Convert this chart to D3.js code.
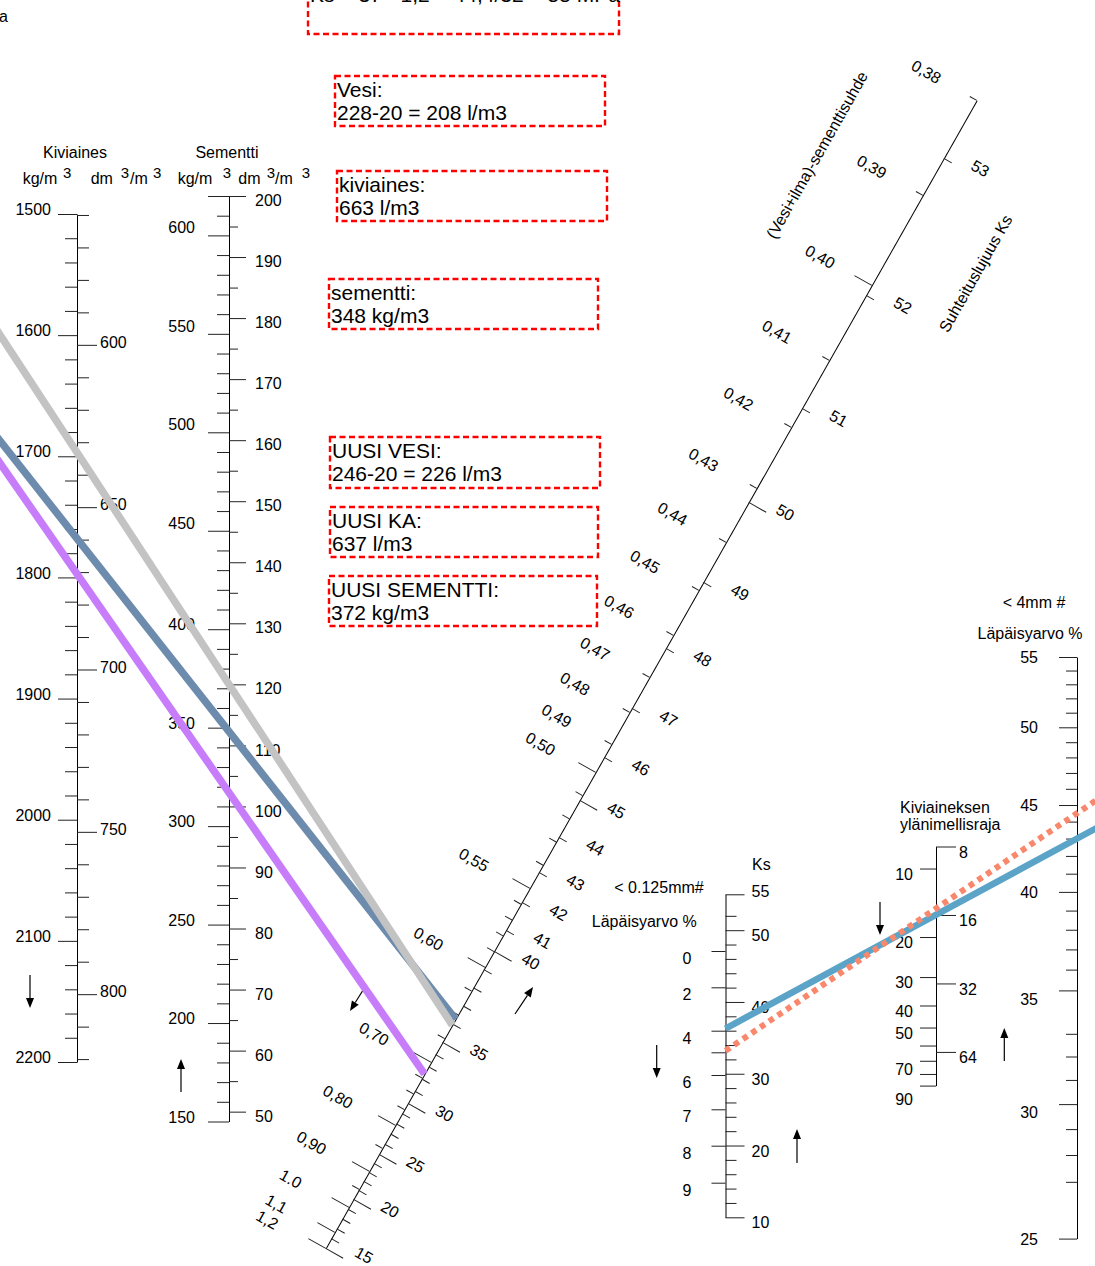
<!DOCTYPE html>
<html>
<head>
<meta charset="utf-8">
<title>Betonin suhteitusnomogrammi</title>
<style>
  body { margin: 0; background: #fff; }
  svg { display: block; }
</style>
</head>
<body>
<script src="https://cdn.jsdelivr.net/npm/d3@7/dist/d3.min.js"></script>
<script>
// ---------- values ----------
var aggKgLabels = [1500, 1600, 1700, 1800, 1900, 2000, 2100, 2200];
var aggDmLabels = [600, 650, 700, 750, 800];
var aggDensity = 2.68;   // kg/dm3

var cemKgLabels = [600, 550, 500, 450, 400, 350, 300, 250, 200, 150];
var cemDmLabels = [200, 190, 180, 170, 160, 150, 140, 130, 120, 110, 100, 90, 80, 70, 60, 50];
var cemDensity = 3.1;

var wcLabels = [0.38, 0.39, 0.40, 0.41, 0.42, 0.43, 0.44, 0.45, 0.46, 0.47, 0.48, 0.49, 0.50,
                0.55, 0.60, 0.70, 0.80, 0.90, 1.0, 1.1, 1.2];
var ksLabels = [15, 20, 25, 30, 35, 40, 41, 42, 43, 44, 45, 46, 47, 48, 49, 50, 51, 52, 53];

var ksSmallLabels = [55, 50, 40, 30, 20, 10];
var fineLabels = [0, 2, 4, 6, 7, 8, 9];
var dmaxLeftLabels = [10, 20, 30, 40, 50, 70, 90];
var dmaxRightLabels = [8, 16, 32, 64];
var coarseLabels = [55, 50, 45, 40, 35, 30, 25];

// water / cement pairs drawn from the cement axis to the w/c axis
var mixWater  = [228, 246, 228];
var mixCement = [348, 372, 317];

// Ks (middle axis) -> passing % (< 4mm) lines
var gradeKs   = [36.3, 33.2];
var gradePass = [43.0, 44.5];

var noteLines = [
  ["Ks = 37 · 1,2 = 44,4/32 = 55 MPa"],
  ["Vesi:", "228-20 = 208 l/m3"],
  ["kiviaines:", "663 l/m3"],
  ["sementti:", "348 kg/m3"],
  ["UUSI VESI:", "246-20 = 226 l/m3"],
  ["UUSI KA:", "637 l/m3"],
  ["UUSI SEMENTTI:", "372 kg/m3"]
];

// ---------- layout ----------
var width = 1095, height = 1266;
var FONT = '"Liberation Sans", Arial, Helvetica, sans-serif';

var svg = d3.select("body").append("svg")
    .attr("width", width)
    .attr("height", height)
    .attr("font-family", FONT);

var aggX = 77, cemX = 229, ksX = 725.5, dmaxX = 936, coarseX = 1077;

// vertical scales
var aggKg = d3.scaleLinear().domain([1500, 2200]).range([214, 1062]);
var aggDm = d3.scaleLinear().domain([1500 / aggDensity, 2200 / aggDensity]).range([214, 1062]);
var cemKg = d3.scaleLinear().domain([620, 150]).range([196, 1121.5]);
var cemDm = d3.scaleLinear().domain([620 / cemDensity, 150 / cemDensity]).range([196, 1121.5]);
var ksMid = d3.scaleLinear().domain([55, 10]).range([894.3, 1217.3]);
// the < 0.125 mm scale is not linear: calibrated on its ticks
var fineCal  = [0, 2, 4, 5, 6, 7, 8, 9];
var fineCalY = [951, 987.3, 1030.7, 1052.3, 1075, 1109.3, 1145.7, 1182.7];
var fineScale = d3.scaleLinear().domain(fineCal).range(fineCalY);
var dmaxScale = d3.scaleLog().domain([8, 90]).range([846.5, 1085.6]);
var coarseScale = d3.scaleLog().domain([25, 55]).range([1238.6, 657]);

// oblique w/c + Ks axis
var diagTop = [977, 100], diagBot = [326, 1248];
var diagLen = Math.hypot(diagBot[0] - diagTop[0], diagBot[1] - diagTop[1]);
var dirX = (diagBot[0] - diagTop[0]) / diagLen, dirY = (diagBot[1] - diagTop[1]) / diagLen;
var diagAngle = Math.atan2(-dirX, dirY) * 180 / Math.PI;
function toDist(y) { return (y - diagTop[1]) / dirY; }
function diagPoint(d) { return [diagTop[0] + dirX * d, diagTop[1] + dirY * d]; }

// nonlinear nomogram scales, calibrated on the printed ticks (screen y on the axis)
var wcCal  = [0.38, 0.39, 0.40, 0.41, 0.42, 0.43, 0.44, 0.45, 0.46, 0.47, 0.48, 0.49, 0.50,
              0.55, 0.60, 0.70, 0.80, 0.90, 1.0, 1.1, 1.2];
var wcCalY = [100, 195, 285, 360, 427, 488, 542, 590, 635, 677, 712, 744, 772,
              888, 967, 1062, 1125, 1171, 1207, 1232, 1248];
var ksCal  = [15, 20, 25, 30, 35, 40, 41, 42, 43, 44, 45, 46, 47, 48, 49, 50, 51, 52, 53];
var ksCalY = [1248, 1199, 1154, 1103, 1042, 951, 930, 902, 872, 837, 800, 757, 708, 648, 582, 502, 408, 295, 158];
var wcScale = d3.scaleLinear().domain(wcCal).range(wcCalY.map(toDist));
var ksScale = d3.scaleLinear().domain(ksCal).range(ksCalY.map(toDist));

// ---------- helpers ----------
function makeAxis(side, scale, values, size, fmt, pad) {
  return (side === "left" ? d3.axisLeft(scale) : d3.axisRight(scale))
    .tickValues(values)
    .tickSize(size)
    .tickSizeOuter(0)
    .tickPadding(pad || 3)
    .tickFormat(fmt || function () { return ""; });
}

function axisG(parent, transform, axis, withDomain) {
  var g = parent.append("g")
      .attr("transform", transform)
      .call(axis)
      .attr("font-size", 16)
      .attr("font-family", FONT)
      .attr("color", "#000");
  if (!withDomain) g.select(".domain").remove();
  g.selectAll(".tick line").attr("stroke", "#222");
  g.selectAll(".tick text").attr("dy", "0.35em");
  return g;
}

function only(list) {
  return function (d) { return list.indexOf(d) >= 0 ? d : ""; };
}

function arrow(x1, y1, x2, y2) {
  var dx = x2 - x1, dy = y2 - y1, L = Math.hypot(dx, dy);
  var ux = dx / L, uy = dy / L, hl = 10, hw = 4;
  svg.append("line")
    .attr("x1", x1).attr("y1", y1)
    .attr("x2", x2 - ux * hl).attr("y2", y2 - uy * hl)
    .attr("stroke", "#000").attr("stroke-width", 1.2);
  svg.append("path")
    .attr("d", "M" + x2 + "," + y2 +
               "L" + (x2 - ux * hl - uy * hw) + "," + (y2 - uy * hl + ux * hw) +
               "L" + (x2 - ux * hl + uy * hw) + "," + (y2 - uy * hl - ux * hw) + "Z")
    .attr("fill", "#000");
}

function label(str, x, y, anchor, size) {
  return svg.append("text")
    .attr("x", x).attr("y", y)
    .attr("text-anchor", anchor || "start")
    .attr("font-size", size || 16)
    .attr("fill", "#000")
    .text(str);
}

var fmtInt = d3.format("d");

// ---------- Kiviaines axis ----------
var tAgg = "translate(" + aggX + ",0)";
axisG(svg, tAgg, makeAxis("left", aggKg,
  d3.range(1500, 2201, 20).filter(function (d) { return d % 100 !== 0; }), 12), true);
axisG(svg, tAgg, makeAxis("left", aggKg, aggKgLabels, 19, fmtInt, 7))
  .selectAll(".tick text").attr("y", -5);
axisG(svg, tAgg, makeAxis("right", aggDm,
  d3.range(560, 821, 10).filter(function (d) { return d % 50 !== 0; }), 12));
axisG(svg, tAgg, makeAxis("right", aggDm, aggDmLabels, 20, fmtInt, 3))
  .selectAll(".tick text").attr("y", -3);

// ---------- Sementti axis ----------
var tCem = "translate(" + cemX + ",0)";
axisG(svg, tCem, makeAxis("left", cemKg,
  d3.range(160, 620, 10).filter(function (d) { return d % 50 !== 0; }), 12), true);
axisG(svg, tCem, makeAxis("left", cemKg, [620].concat(cemKgLabels), 21, only(cemKgLabels), 13))
  .selectAll(".tick text").attr("y", function (d) { return d > 400 ? -8 : -5; });
axisG(svg, tCem, makeAxis("right", cemDm,
  d3.range(55, 200, 10), 9));
axisG(svg, tCem, makeAxis("right", cemDm, cemDmLabels, 17, fmtInt, 9))
  .selectAll(".tick text").attr("y", 4);

// ---------- oblique w/c and Ks axis ----------
var tDiag = "translate(" + diagTop[0] + "," + diagTop[1] + ") rotate(" + diagAngle + ")";
var wcLong = [0.40, 0.50, 0.55, 0.60, 0.70, 0.80, 0.90, 1.0, 1.1, 1.2];
var wcShort = d3.range(38, 61).map(function (i) { return i / 100; })
  .filter(function (d) { return wcLong.indexOf(d) < 0; })
  .concat([0.625, 0.65, 0.675, 0.725, 0.75, 0.775, 0.85, 0.95]);
axisG(svg, tDiag, makeAxis("left", wcScale, wcShort, 8), true);
axisG(svg, tDiag, makeAxis("left", wcScale, wcLong, 20));
axisG(svg, tDiag, makeAxis("left", wcScale, wcLabels, 0, function (d) {
  return d === 1 ? "1.0" : (d > 1 ? d.toFixed(1) : d.toFixed(2)).replace(".", ",");
})).selectAll(".tick text")
  .attr("x", function (d) { return -58 - 7 * wcScale(d) / diagLen; })
  .attr("y", function (d) { return 4 * wcScale(d) / diagLen; })
  .attr("text-anchor", "middle");

var ksLong = [15, 20, 25, 30, 35, 40, 45, 50];
var ksShort = d3.range(15, 54).filter(function (d) { return d % 5 !== 0; });
axisG(svg, tDiag, makeAxis("right", ksScale, ksShort, 9));
axisG(svg, tDiag, makeAxis("right", ksScale, ksLong, 20));
axisG(svg, tDiag, makeAxis("right", ksScale, ksLabels, 0, fmtInt))
  .selectAll(".tick text")
  .attr("x", 36.7)
  .attr("y", function (d) { return d === 15 ? -13 : -9.3; })
  .attr("text-anchor", "middle");

svg.append("text")
  .attr("transform", "translate(817,155) rotate(" + (diagAngle - 90) + ")")
  .attr("text-anchor", "middle").attr("dy", "0.35em").attr("font-size", 16)
  .text("(Vesi+ilma)-sementtisuhde");
svg.append("text")
  .attr("transform", "translate(975.5,273.5) rotate(" + (diagAngle - 90) + ")")
  .attr("text-anchor", "middle").attr("dy", "0.35em").attr("font-size", 16)
  .text("Suhteituslujuus Ks");

// ---------- middle Ks / < 0.125 mm axis ----------
var tKs = "translate(" + ksX + ",0)";
axisG(svg, tKs, makeAxis("right", ksMid,
  [12, 14, 16, 18, 22, 24, 26, 28, 32, 34, 36, 38, 42, 44, 46, 48, 52], 11), true);
axisG(svg, tKs, makeAxis("right", ksMid, ksSmallLabels, 19, fmtInt, 7))
  .selectAll(".tick text").attr("y", function (d) { return d === 55 ? -3 : 5; });
axisG(svg, tKs, makeAxis("left", fineScale, fineCal, 14, only(fineLabels), 20))
  .selectAll(".tick text").attr("y", 7);

// ---------- Kiviaineksen ylänimellisraja ----------
var tDmax = "translate(" + dmaxX + ",0)";
axisG(svg, tDmax, makeAxis("left", dmaxScale, [10, 20, 30, 40, 50, 60, 70, 80, 90], 16,
  only(dmaxLeftLabels), 7)).selectAll(".tick text")
  .attr("y", function (d) { return d === 90 ? 13 : (d === 70 ? 8 : 5); });
axisG(svg, tDmax, makeAxis("right", dmaxScale, dmaxRightLabels, 20, fmtInt, 3), true)
  .selectAll(".tick text").attr("y", 5);

// ---------- < 4 mm passing axis ----------
var tCoarse = "translate(" + coarseX + ",0)";
axisG(svg, tCoarse, makeAxis("left", coarseScale,
  d3.range(25, 56).filter(function (d) { return d % 5 !== 0 && d !== 26 && d !== 34; }), 11), true);
axisG(svg, tCoarse, makeAxis("left", coarseScale, coarseLabels, 18, fmtInt, 21))
  .selectAll(".tick text").attr("y", function (d) { return d === 35 || d === 30 ? 8 : 0; });

// ---------- captions ----------
label("Vesi ja ilma", 8, 21.5, "end");
label("Kiviaines", 75, 158, "middle");
label("Sementti", 227, 158, "middle");
[["kg/m", 22.7], ["dm", 90.7], ["/m", 130], ["kg/m", 177.7], ["dm", 238.3], ["/m", 275]]
  .forEach(function (u) { label(u[0], u[1], 184); });
[63, 120.7, 153, 222.7, 266.7, 301.7].forEach(function (x) { label("3", x, 177.5, "start", 15); });
label("< 0.125mm#", 659, 893, "middle");
label("Läpäisyarvo %", 644.3, 926.5, "middle");
label("Ks", 752, 870);
label("Kiviaineksen", 900, 813);
label("ylänimellisraja", 900, 829.5);
label("< 4mm #", 1034, 608, "middle");
label("Läpäisyarvo %", 1030, 638.5, "middle");

// ---------- arrows ----------
[[30, 975, 30, 1008], [181, 1092, 181, 1059], [365, 987, 350, 1011], [515, 1014, 533, 987],
 [656.7, 1045, 656.7, 1078], [797, 1163, 797, 1129], [880, 902, 880, 935], [1004.3, 1061, 1004.3, 1028]]
  .forEach(function (a) { arrow(a[0], a[1], a[2], a[3]); });

// ---------- water/cement lines ----------
var mixColor = ["#6d8cad", "#c3c3c3", "#c77dfa"];
mixWater.forEach(function (w, i) {
  var p1 = [cemX, cemKg(mixCement[i])];
  var p2 = diagPoint(wcScale(w / mixCement[i]));
  var k = (p2[1] - p1[1]) / (p2[0] - p1[0]);
  var x0 = -10;
  svg.append("line")
    .attr("x1", x0).attr("y1", p1[1] + k * (x0 - p1[0]))
    .attr("x2", p2[0]).attr("y2", p2[1])
    .attr("stroke", mixColor[i])
    .attr("stroke-width", 7.5);
});

// ---------- grading lines ----------
var gradeColor = ["#5ba4c8", "#f9876b"];
var gradeDash = [null, "5.5,5"];
gradeKs.forEach(function (ks, i) {
  var a = [ksX, ksMid(ks)], b = [coarseX, coarseScale(gradePass[i])];
  var x1 = 1100, y1 = a[1] + (b[1] - a[1]) * (x1 - a[0]) / (b[0] - a[0]);
  svg.append("line")
    .attr("x1", a[0]).attr("y1", a[1])
    .attr("x2", x1).attr("y2", y1)
    .attr("stroke", gradeColor[i])
    .attr("stroke-width", i === 0 ? 6.5 : 6)
    .attr("stroke-dasharray", gradeDash[i]);
});

// ---------- note boxes ----------
var noteRects = [[308, -30, 311, 64], [335, 76, 270, 50], [337, 171, 270, 50], [329, 279, 269, 50],
                 [330, 437, 270, 51], [330, 507, 268, 50], [329, 576, 268, 50]];
noteLines.forEach(function (lines, i) {
  var r = noteRects[i];
  svg.append("rect")
    .attr("x", r[0]).attr("y", r[1]).attr("width", r[2]).attr("height", r[3])
    .attr("fill", "none")
    .attr("stroke", "#ff0000")
    .attr("stroke-width", 2.4)
    .attr("stroke-dasharray", "6,3.5");
  if (i === 0) {
    label(lines[0], r[0] + 2, 1.5, "start", 21);
  } else {
    lines.forEach(function (s, j) { label(s, r[0] + 2, r[1] + 20.5 + j * 23.5, "start", 21); });
  }
});
</script>
</body>
</html>
